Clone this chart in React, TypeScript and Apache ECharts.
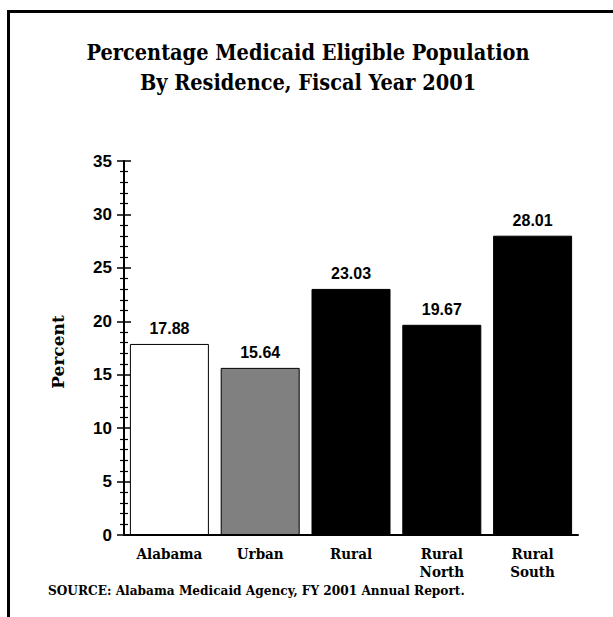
import React, { useEffect, useRef } from "react";
import * as echarts from "echarts";

const categories = ["Alabama", "Urban", "Rural", "Rural\nNorth", "Rural\nSouth"];
const values = [17.88, 15.64, 23.03, 19.67, 28.01];
const barColors = ["#ffffff", "#808080", "#000000", "#000000", "#000000"];
const titleLines = ["Percentage Medicaid Eligible Population", "By Residence, Fiscal Year 2001"];
const sourceText = "SOURCE: Alabama Medicaid Agency, FY 2001 Annual Report.";
const yName = "Percent";

const serif = "'DejaVu Serif Condensed', 'DejaVu Serif', serif";
const narrow = "'Liberation Sans', Arial, sans-serif";

export default function App() {
  const ref = useRef<HTMLDivElement>(null);
  useEffect(() => {
    if (!ref.current) return;
    const chart = echarts.init(ref.current, undefined, { renderer: "svg" });
    const axisCommon = {
      type: "value" as const,
      min: 0,
      max: 35,
      interval: 5,
      position: "left" as const,
      splitLine: { show: false },
    };
    chart.setOption({
      animation: false,
      backgroundColor: "#ffffff",
      grid: { left: 124, right: 35, top: 161, bottom: 82 },
      graphic: [
        { type: "line", shape: { x1: 7, y1: 11.5, x2: 613, y2: 11.5 }, style: { stroke: "#000", lineWidth: 3 } },
        { type: "line", shape: { x1: 8.5, y1: 10, x2: 8.5, y2: 617 }, style: { stroke: "#000", lineWidth: 3 } },
        {
          type: "text",
          x: 308,
          y: 52,
          style: { text: titleLines[0], fontFamily: serif, fontWeight: "bold", fontSize: 21.5, fill: "#000", align: "center", verticalAlign: "middle" },
        },
        {
          type: "text",
          x: 308,
          y: 82,
          style: { text: titleLines[1], fontFamily: serif, fontWeight: "bold", fontSize: 21.5, fill: "#000", align: "center", verticalAlign: "middle" },
        },
        {
          type: "text",
          x: 48,
          y: 590,
          style: { text: sourceText, fontFamily: serif, fontWeight: "bold", fontSize: 13.5, fill: "#000", align: "left", verticalAlign: "middle" },
        },
        {
          type: "text",
          x: 58,
          y: 352,
          rotation: Math.PI / 2,
          style: { text: yName, fontFamily: "'DejaVu Serif', serif", fontWeight: "bold", fontSize: 17, fill: "#000", align: "center", verticalAlign: "middle" },
        },
      ],
      xAxis: {
        type: "category",
        data: categories,
        axisLine: { lineStyle: { color: "#000", width: 2 } },
        axisTick: { show: false },
        axisLabel: {
          interval: 0,
          margin: 10,
          color: "#000",
          fontFamily: serif,
          fontWeight: "bold",
          fontSize: 15,
          lineHeight: 18,
        },
      },
      yAxis: [
        {
          ...axisCommon,
          axisLine: { show: true, lineStyle: { color: "#000", width: 2 } },
          axisTick: { show: true, inside: false, length: 7, lineStyle: { color: "#000", width: 1.5 } },
          minorTick: { show: true, splitNumber: 5, length: 4, lineStyle: { color: "#000", width: 1.2 } },
          axisLabel: { margin: 12, color: "#000", fontFamily: narrow, fontWeight: "bold", fontSize: 17 },
        },
        {
          ...axisCommon,
          axisLine: { show: false },
          axisTick: { show: true, inside: true, length: 7, lineStyle: { color: "#000", width: 1.5 } },
          minorTick: { show: true, splitNumber: 5, length: 4, lineStyle: { color: "#000", width: 1.2 } },
          axisLabel: { show: false },
        },
      ],
      series: [
        {
          type: "bar",
          yAxisIndex: 0,
          barWidth: 79,
          data: values.map((v, i) => ({
            value: v,
            itemStyle: { color: barColors[i], borderColor: "#000", borderWidth: 1 },
          })),
          label: {
            show: true,
            position: "top",
            distance: 7,
            color: "#000",
            fontFamily: narrow,
            fontWeight: "bold",
            fontSize: 16,
            formatter: (p: any) => p.value.toFixed(2),
          },
        },
      ],
    });
    return () => chart.dispose();
  }, []);
  return <div ref={ref} style={{ position: "fixed", left: 0, top: 0, width: 613, height: 617 }} />;
}
